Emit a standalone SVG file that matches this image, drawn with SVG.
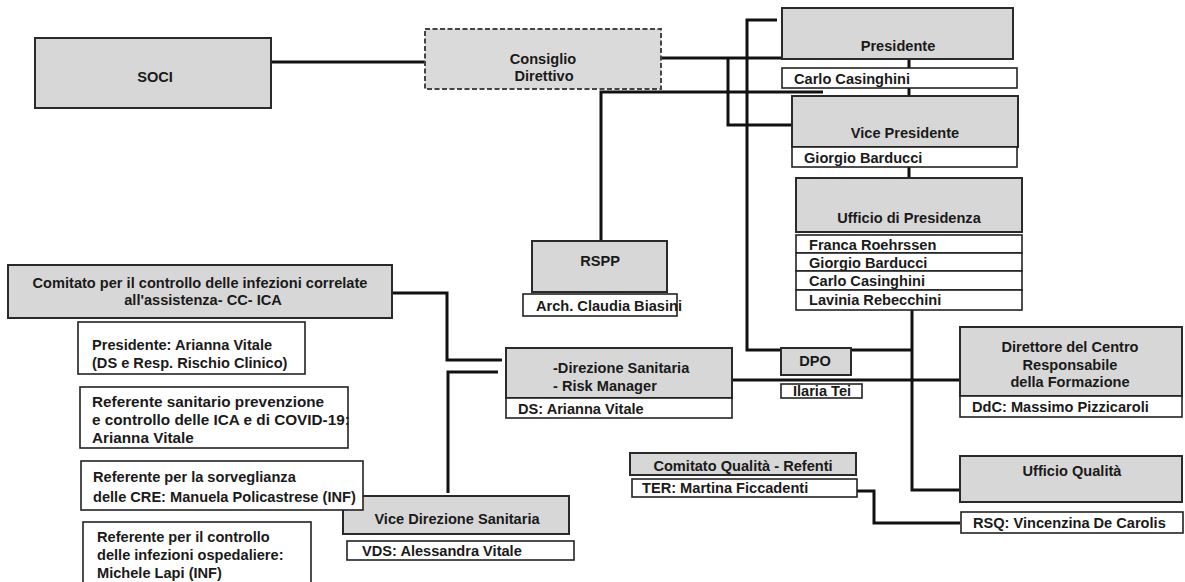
<svg xmlns="http://www.w3.org/2000/svg" width="1185" height="582" viewBox="0 0 1185 582">
<style>
  .g{fill:#d7d7d7;stroke:#2a2a2a;stroke-width:2}
  .d{fill:#dadada;stroke:#444;stroke-width:2;stroke-dasharray:5 2.5}
  .w{fill:#fff;stroke:#222;stroke-width:1.6}
  .c{fill:none;stroke:#111;stroke-width:3}
  text{font-family:"Liberation Sans",Arial,sans-serif;font-weight:bold;font-size:14.6px;fill:#1a1a1a}
  .m{text-anchor:middle}
  .l{font-size:15.3px}
</style>
<rect width="1185" height="582" fill="#fff"/>
<g id="connectors">
  <path class="c" d="M271,62 H425"/>
  <path class="c" d="M661,58 H782"/>
  <path class="c" d="M728,58 V125 H792"/>
  <path class="c" d="M777,20 H747 V350 H912"/>
  <path class="c" d="M601,241 V92 H823"/>
  <path class="c" d="M909,59 V68 M909,88 V96 M909,167 V178"/>
  <path class="c" d="M912,310 V490 H960"/>
  <path class="c" d="M733,380 H960"/>
  <path class="c" d="M392,293 H447 V360 H502"/>
  <path class="c" d="M448,493 V372 H498"/>
  <path class="c" d="M785,491 H874 V523 H960"/>
</g>
<g id="soci">
  <rect class="g" x="35" y="38" width="236" height="70"/>
  <text class="m" x="155" y="82">SOCI</text>
</g>
<g id="consiglio">
  <rect class="d" x="425" y="29" width="236" height="60"/>
  <text class="m" x="543" y="64">Consiglio</text>
  <text class="m" x="544" y="81">Direttivo</text>
</g>
<g id="presidente">
  <rect class="g" x="782" y="8" width="231" height="51"/>
  <text class="m" x="898" y="51">Presidente</text>
  <rect class="w" x="782" y="68" width="235" height="20"/>
  <text x="794" y="84">Carlo Casinghini</text>
</g>
<g id="vicepresidente">
  <rect class="g" x="792" y="96" width="226" height="51"/>
  <text class="m" x="905" y="138">Vice Presidente</text>
  <rect class="w" x="792" y="147" width="225" height="20"/>
  <text x="804" y="163">Giorgio Barducci</text>
</g>
<g id="ufficio-presidenza">
  <rect class="g" x="796" y="178" width="226" height="54"/>
  <text class="m" x="909" y="223">Ufficio di Presidenza</text>
  <rect class="w" x="796" y="235" width="226" height="18"/>
  <rect class="w" x="796" y="253" width="226" height="18"/>
  <rect class="w" x="796" y="271" width="226" height="19"/>
  <rect class="w" x="796" y="290" width="226" height="20"/>
  <text x="809" y="250">Franca Roehrssen</text>
  <text x="809" y="268">Giorgio Barducci</text>
  <text x="809" y="286">Carlo Casinghini</text>
  <text x="809" y="305">Lavinia Rebecchini</text>
</g>
<g id="rspp">
  <rect class="g" x="532" y="241" width="135" height="51"/>
  <text class="m" x="600" y="266">RSPP</text>
  <rect class="w" x="523" y="294" width="154" height="22"/>
  <text x="536" y="311">Arch. Claudia Biasini</text>
</g>
<g id="dpo">
  <rect class="g" x="781" y="348" width="70" height="27"/>
  <text class="m" x="815" y="366">DPO</text>
  <rect class="w" x="781" y="384" width="81" height="14"/>
  <text class="m" x="822" y="396">Ilaria Tei</text>
</g>
<g id="direttore-centro">
  <rect class="g" x="960" y="327" width="222" height="69"/>
  <text class="m" x="1070" y="352">Direttore del Centro</text>
  <text class="m" x="1070" y="370">Responsabile</text>
  <text class="m" x="1070" y="387">della Formazione</text>
  <rect class="w" x="960" y="396" width="222" height="21"/>
  <text x="972" y="412">DdC: Massimo Pizzicaroli</text>
</g>
<g id="direzione-sanitaria">
  <rect class="g" x="506" y="348" width="226" height="50"/>
  <text x="553" y="373">-Direzione Sanitaria</text>
  <text x="553" y="391">- Risk Manager</text>
  <rect class="w" x="506" y="398" width="226" height="20"/>
  <text x="518" y="414">DS: Arianna Vitale</text>
</g>
<g id="comitato-ica">
  <rect class="g" x="8" y="265" width="384" height="53"/>
  <text class="m" x="200" y="288">Comitato per il controllo delle infezioni correlate</text>
  <text class="m" x="203" y="305">all'assistenza- CC- ICA</text>
</g>
<g id="presidente-ica">
  <rect class="w" x="78" y="322" width="227" height="52"/>
  <text x="92" y="350">Presidente: Arianna Vitale</text>
  <text x="92" y="368">(DS e Resp. Rischio Clinico)</text>
</g>
<g id="referente-covid">
  <rect class="w" x="80" y="387" width="268" height="61"/>
  <text class="l" x="92" y="407">Referente sanitario prevenzione</text>
  <text class="l" x="92" y="425">e controllo delle ICA e di COVID-19:</text>
  <text class="l" x="92" y="443">Arianna Vitale</text>
</g>
<g id="vice-direzione">
  <rect class="g" x="343" y="496" width="226" height="38"/>
  <text class="m" x="457" y="524">Vice Direzione Sanitaria</text>
  <rect class="w" x="347" y="541" width="227" height="19"/>
  <text x="362" y="556">VDS: Alessandra Vitale</text>
</g>
<g id="referente-cre">
  <rect class="w" x="81" y="461" width="282" height="49"/>
  <text x="93" y="482">Referente per la sorveglianza</text>
  <text x="93" y="502">delle CRE:  Manuela Policastrese (INF)</text>
</g>
<g id="referente-ospedaliere">
  <rect class="w" x="83" y="522" width="228" height="64"/>
  <text x="97" y="542">Referente per  il controllo</text>
  <text x="97" y="560">delle infezioni ospedaliere:</text>
  <text x="97" y="578">Michele Lapi (INF)</text>
</g>
<g id="comitato-qualita">
  <rect class="g" x="630" y="453" width="226" height="22"/>
  <text class="m" x="743" y="471">Comitato Qualità - Refenti</text>
  <rect class="w" x="632" y="479" width="225" height="18"/>
  <text x="642" y="493">TER: Martina Ficcadenti</text>
</g>
<g id="ufficio-qualita">
  <rect class="g" x="960" y="456" width="222" height="46"/>
  <text class="m" x="1072" y="476">Ufficio Qualità</text>
  <rect class="w" x="961" y="512" width="222" height="21"/>
  <text x="973" y="528">RSQ: Vincenzina De Carolis</text>
</g>
</svg>
